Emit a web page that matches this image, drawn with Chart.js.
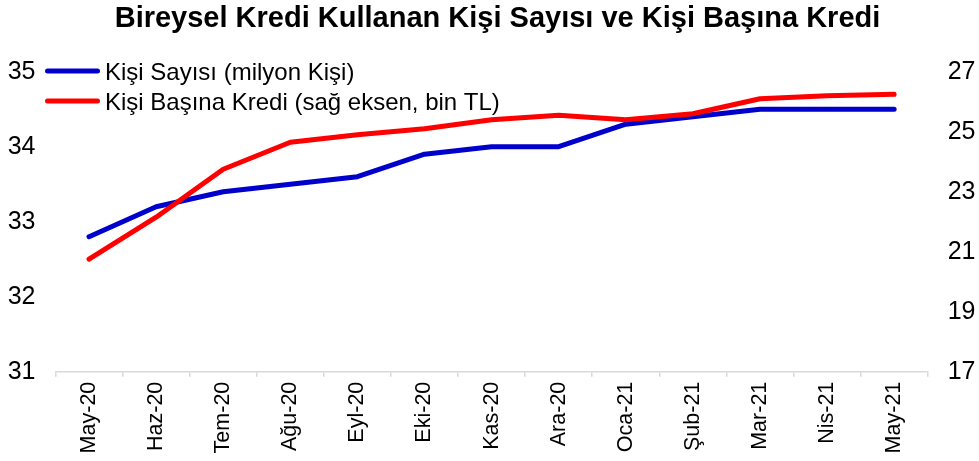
<!DOCTYPE html>
<html>
<head>
<meta charset="utf-8">
<script src="https://cdn.jsdelivr.net/npm/chart.js@4.4.1/dist/chart.umd.min.js"></script>
<style>
  html,body{margin:0;padding:0;background:#fff;}
  #wrap{width:979px;height:461px;}
</style>
</head>
<body>
<div id="wrap"><canvas id="chart" width="979" height="461"></canvas></div>
<script>
const TITLE = 'Bireysel Kredi Kullanan Kişi Sayısı ve Kişi Başına Kredi';
const months = ['May-20','Haz-20','Tem-20','Ağu-20','Eyl-20','Eki-20','Kas-20','Ara-20','Oca-21','Şub-21','Mar-21','Nis-21','May-21'];
const kisiSayisi = [32.8, 33.2, 33.4, 33.5, 33.6, 33.9, 34.0, 34.0, 34.3, 34.4, 34.5, 34.5, 34.5];
const kisiBasinaKredi = [20.75, 22.15, 23.75, 24.65, 24.9, 25.1, 25.4, 25.55, 25.4, 25.6, 26.1, 26.2, 26.25];
const leftTicks = [31, 32, 33, 34, 35];
const rightTicks = [17, 19, 21, 23, 25, 27];

const FONT = "'Liberation Sans', Arial, sans-serif";
const BLUE = '#0000CC';
const RED = '#FF0000';

Chart.defaults.font.family = FONT;
Chart.defaults.color = '#000';

// title in the original is a little right of the canvas centre
const shiftTitle = {
  id: 'shiftTitle',
  afterLayout(chart){
    if(chart.titleBlock){
      chart.titleBlock.left += 8;
      chart.titleBlock.right += 8;
    }
  }
};

// legend sits inside the plot, top-left, so draw it by hand
const insideLegend = {
  id: 'insideLegend',
  afterDatasetsDraw(chart){
    const ctx = chart.ctx;
    const rows = [chart.data.datasets[0], chart.data.datasets[1]];
    ctx.save();
    rows.forEach((ds, i) => {
      const y = 71 + i*30;
      ctx.strokeStyle = ds.borderColor;
      ctx.lineWidth = 5;
      ctx.lineCap = 'round';
      ctx.beginPath();
      ctx.moveTo(47.5, y);
      ctx.lineTo(97.5, y);
      ctx.stroke();
      ctx.fillStyle = '#000';
      ctx.font = '24px ' + FONT;
      ctx.textAlign = 'left';
      ctx.textBaseline = 'alphabetic';
      ctx.fillText(ds.label, 105, y + 8.6);
    });
    ctx.restore();
  }
};

new Chart(document.getElementById('chart'), {
  type: 'line',
  data: {
    labels: months,
    datasets: [
      { label: 'Kişi Sayısı (milyon Kişi)', data: kisiSayisi, yAxisID: 'y', borderColor: BLUE, order: 1 },
      { label: 'Kişi Başına Kredi (sağ eksen, bin TL)', data: kisiBasinaKredi, yAxisID: 'y1', borderColor: RED, order: 0 }
    ]
  },
  options: {
    responsive: false,
    animation: false,
    layout: { padding: 0 },
    elements: {
      line: { borderWidth: 5, tension: 0, borderCapStyle: 'round', borderJoinStyle: 'round', fill: false },
      point: { radius: 0, hoverRadius: 0 }
    },
    plugins: {
      legend: { display: false },
      tooltip: { enabled: false },
      title: {
        display: true,
        text: TITLE,
        font: { size: 29, weight: 'bold', family: FONT },
        color: '#000',
        padding: { top: 2, bottom: 34.9 }
      }
    },
    scales: {
      x: {
        offset: true,
        grid: { display: true, offset: true, drawOnChartArea: false, drawTicks: true, tickLength: 5, color: '#d9d9d9', lineWidth: 1.5 },
        border: { display: true, color: '#d9d9d9', width: 1.5 },
        ticks: { minRotation: 90, maxRotation: 90, autoSkip: false, padding: 5, font: { size: 21.5 }, color: '#000' },
        afterFit(scale){ scale.height = 89.3; }
      },
      y: {
        position: 'left',
        min: 31, max: 35,
        afterBuildTicks(scale){ scale.ticks = leftTicks.map(v => ({ value: v })); },
        grid: { display: false, drawTicks: false },
        border: { display: false },
        ticks: { padding: 20, font: { size: 25 }, color: '#000' },
        afterFit(scale){ scale.width = 55.5; }
      },
      y1: {
        position: 'right',
        min: 17, max: 27,
        afterBuildTicks(scale){ scale.ticks = rightTicks.map(v => ({ value: v })); },
        grid: { display: false, drawTicks: false },
        border: { display: false },
        ticks: { padding: 20, font: { size: 25 }, color: '#000' },
        afterFit(scale){ scale.width = 51.3; }
      }
    }
  },
  plugins: [shiftTitle, insideLegend]
});
</script>
</body>
</html>
